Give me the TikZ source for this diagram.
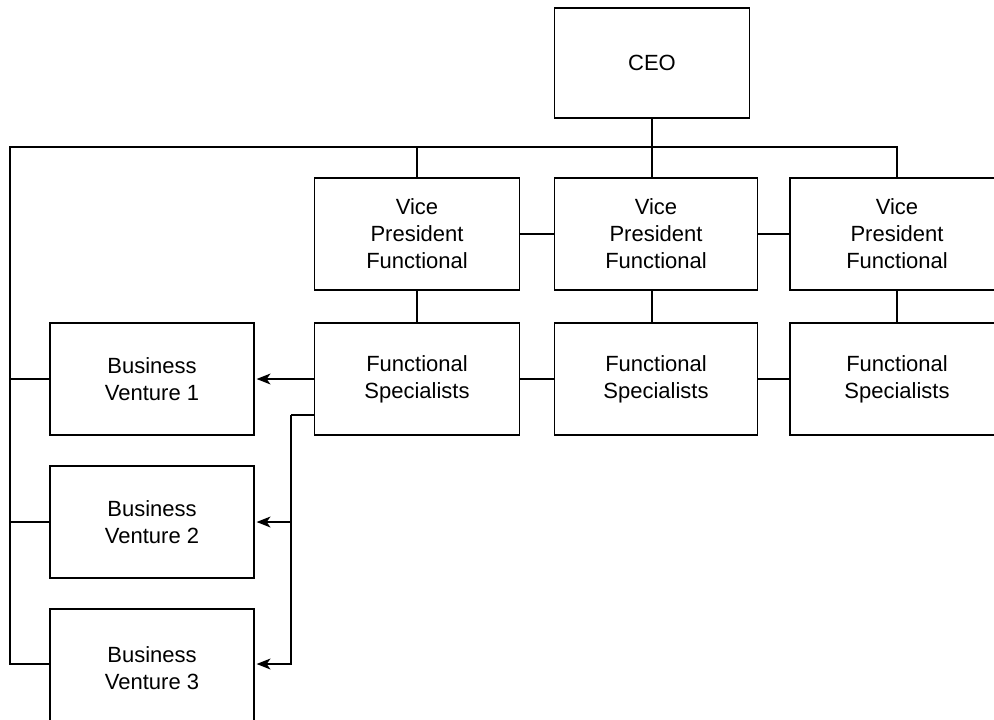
\documentclass[tikz,border=0pt]{standalone}
\usepackage{fontspec}
\setmainfont{Liberation Sans}
\usetikzlibrary{arrows.meta,positioning,calc}

\begin{document}
\begin{tikzpicture}[x=1pt,y=-1pt,line width=1.2pt,
    box/.style={draw,minimum width=205pt,minimum height=112pt,
                font=\fontsize{22}{27}\selectfont,align=center,inner sep=0pt},
    arr/.style={-{Stealth[length=14pt,width=11pt,inset=4pt]},shorten >=2pt}]

    \useasboundingbox (0,0) rectangle (994,720);
    \clip (0,0) rectangle (994,720);

    \node[box,minimum width=195pt,minimum height=110pt] (ceo) at (652,63) {CEO};

    \node[box] (vp1) at (417,234) {Vice\\President\\Functional};
    \node[box,minimum width=203pt] (vp2) at (656,234) {Vice\\President\\Functional};
    \node[box,minimum width=214pt] (vp3) at (897,234) {Vice\\President\\Functional};

    \node[box] (fs1) at (417,379) {Functional\\Specialists};
    \node[box,minimum width=203pt] (fs2) at (656,379) {Functional\\Specialists};
    \node[box,minimum width=214pt] (fs3) at (897,379) {Functional\\Specialists};

    \node[box,minimum width=204pt] (bv1) at (152,379) {Business\\Venture 1};
    \node[box,minimum width=204pt] (bv2) at (152,522) {Business\\Venture 2};
    \node[box,minimum width=204pt,minimum height=118pt] (bv3) at (152,668) {Business\\Venture 3};

    \coordinate (topL) at (10,147);
    \coordinate (split) at (291,415);

    % reporting lines
    \draw (ceo.south) -- (ceo.south |- vp2.north);
    \draw (bv1.west) -| (topL) -| (vp3.north);
    \draw (bv2.west) -| (topL);
    \draw ([yshift=4pt]bv3.west) -| (topL);
    \draw (vp1.north) -- (vp1.north |- topL);
    \draw (vp1) -- (vp2);
    \draw (vp2) -- (vp3);
    \draw (vp1) -- (fs1);
    \draw (vp2.south -| ceo.south) -- (fs2.north -| ceo.south);
    \draw (vp3) -- (fs3);
    \draw (fs1) -- (fs2);
    \draw (fs2) -- (fs3);

    % ventures
    \draw[arr] (fs1.west) -- (bv1.east);
    \draw (fs1.west |- split) -- (split);
    \draw[arr] (split) |- ([yshift=4pt]bv3.east);
    \draw[arr] (split |- bv2.east) -- (bv2.east);
  \end{tikzpicture}
\end{document}
